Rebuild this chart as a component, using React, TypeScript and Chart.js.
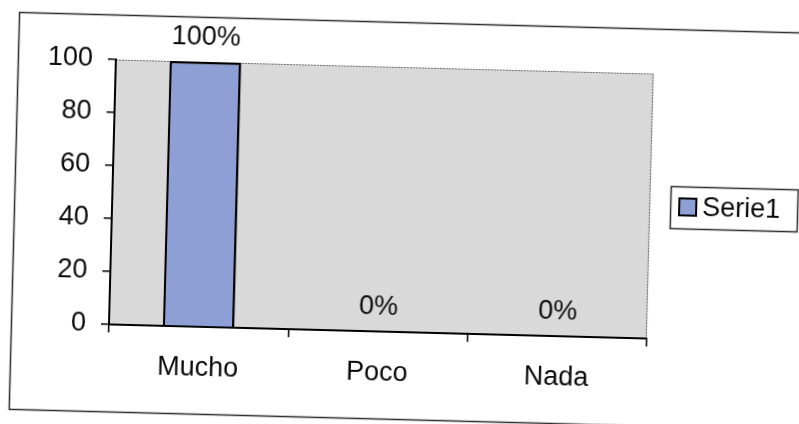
import { useEffect, useRef } from 'react';
import { Chart, registerables } from 'chart.js';

Chart.register(...registerables);

// Survey result: one series over three answer categories
const categories: string[] = ['Mucho', 'Poco', 'Nada'];
const serieValues: number[] = [100, 0, 0];
const serieName = 'Serie1';
const yMin = 0;
const yMax = 100;
const yStep = 20;

const FONT = '"Liberation Sans", Arial, Helvetica, sans-serif';
const FONT_SIZE = 27;
const BAR_FILL = '#8e9fd6';
const TEXT = '#0a0a0a';

// White sheet, outer frame, gray plot area with a dotted edge on top/right
const backdropPlugin = {
  id: 'backdrop',
  beforeDraw(chart: any) {
    const { ctx, chartArea } = chart;
    const { left, top, right, bottom } = chartArea;
    ctx.save();
    ctx.fillStyle = '#ffffff';
    ctx.fillRect(0, 0, chart.width, chart.height);
    ctx.strokeStyle = '#2b2b2b';
    ctx.lineWidth = 1.5;
    ctx.strokeRect(14.5, 22.5, 830, 397);
    ctx.fillStyle = '#d9d9d9';
    ctx.fillRect(left, top, right - left, bottom - top);
    ctx.strokeStyle = '#6f6f6f';
    ctx.lineWidth = 1.2;
    ctx.setLineDash([2, 1]);
    ctx.beginPath();
    ctx.moveTo(left, top + 0.5);
    ctx.lineTo(right - 0.5, top + 0.5);
    ctx.lineTo(right - 0.5, bottom);
    ctx.stroke();
    ctx.restore();
  },
};

// Percentage label above each bar
const valueLabelPlugin = {
  id: 'valueLabels',
  afterDatasetsDraw(chart: any) {
    const { ctx } = chart;
    chart.data.datasets.forEach((ds: any, i: number) => {
      const meta = chart.getDatasetMeta(i);
      meta.data.forEach((bar: any, j: number) => {
        ctx.save();
        ctx.font = `${FONT_SIZE}px ${FONT}`;
        ctx.fillStyle = TEXT;
        ctx.textAlign = 'center';
        ctx.textBaseline = 'middle';
        ctx.fillText(`${ds.data[j]}%`, bar.x, bar.y - 24);
        ctx.restore();
      });
    });
  },
};

// Boxed legend to the right of the plot
const boxedLegendPlugin = {
  id: 'boxedLegend',
  afterDraw(chart: any) {
    const { ctx } = chart;
    const ds = chart.data.datasets[0];
    const x = 670;
    const y = 179;
    const w = 127;
    const h = 42;
    ctx.save();
    ctx.fillStyle = '#ffffff';
    ctx.fillRect(x, y, w, h);
    ctx.strokeStyle = '#2b2b2b';
    ctx.lineWidth = 1.5;
    ctx.strokeRect(x + 0.5, y + 0.5, w, h);
    const cy = y + h / 2;
    ctx.fillStyle = ds.backgroundColor;
    ctx.fillRect(x + 9, cy - 9, 17, 17);
    ctx.strokeStyle = '#000';
    ctx.lineWidth = 2;
    ctx.strokeRect(x + 9, cy - 9, 17, 17);
    ctx.font = `${FONT_SIZE}px ${FONT}`;
    ctx.fillStyle = TEXT;
    ctx.textAlign = 'left';
    ctx.textBaseline = 'middle';
    ctx.fillText(ds.label, x + 32, cy + 1);
    ctx.restore();
  },
};

export default function App() {
  const canvasRef = useRef<HTMLCanvasElement | null>(null);

  useEffect(() => {
    if (!canvasRef.current) return;
    const chart = new Chart(canvasRef.current, {
      type: 'bar',
      data: {
        labels: categories,
        datasets: [
          {
            label: serieName,
            data: serieValues,
            backgroundColor: BAR_FILL,
            borderColor: '#000000',
            borderWidth: 2.5,
            categoryPercentage: 1,
            barPercentage: 0.4,
          },
        ],
      },
      options: {
        animation: false,
        responsive: false,
        devicePixelRatio: 1,
        layout: { padding: { top: 67, right: 149, left: 0, bottom: 0 } },
        plugins: {
          legend: { display: false },
          tooltip: { enabled: false },
        },
        scales: {
          x: {
            offset: true,
            afterFit: (scale: any) => {
              scale.height = 92;
            },
            grid: {
              offset: true,
              drawOnChartArea: false,
              drawTicks: true,
              tickLength: 8,
              color: '#000',
              lineWidth: 1.5,
            },
            border: { display: true, color: '#000', width: 2 },
            ticks: {
              color: TEXT,
              padding: 17,
              font: { family: FONT, size: FONT_SIZE },
            },
          },
          y: {
            min: yMin,
            max: yMax,
            afterFit: (scale: any) => {
              scale.width = 112;
            },
            grid: {
              drawOnChartArea: false,
              drawTicks: true,
              tickLength: 8,
              color: '#000',
              lineWidth: 1.5,
            },
            border: { display: true, color: '#000', width: 2 },
            ticks: {
              stepSize: yStep,
              color: TEXT,
              padding: 15,
              font: { family: FONT, size: FONT_SIZE },
            },
          },
        },
      },
      plugins: [backdropPlugin, valueLabelPlugin, boxedLegendPlugin],
    });
    return () => chart.destroy();
  }, []);

  return (
    <div
      style={{
        position: 'absolute',
        left: 0,
        top: 0,
        width: 799,
        height: 424,
        transform: 'rotate(1.5deg)',
        transformOrigin: '50% 50%',
      }}
    >
      <canvas ref={canvasRef} width={799} height={424} style={{ display: 'block' }} />
    </div>
  );
}
